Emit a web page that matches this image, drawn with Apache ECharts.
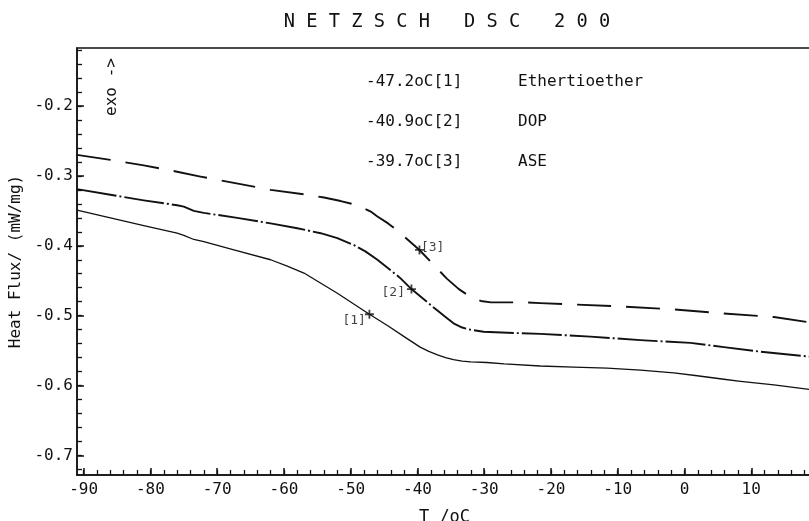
<!DOCTYPE html>
<html><head><meta charset="utf-8">
<script src="https://cdn.jsdelivr.net/npm/echarts@6/dist/echarts.min.js"></script>
<style>html,body{margin:0;padding:0;background:#fff}#c{width:809px;height:521px}</style>
</head><body><div id="c"></div>
<script>
// ---- data ----
const chartTitle = 'N E T Z S C H   D S C   2 0 0';
const seriesNames = ['Ethertioether', 'DOP', 'ASE'];
const onsetTemps = [-47.2, -40.9, -39.7];
const onsetFlux = [-0.498, -0.462, -0.406];

const ethT = [-91, -86, -81, -76, -75, -73.5, -72, -67.5, -62, -59.5, -57, -52, -47.2, -44.5, -42, -39.6, -38.3, -37, -35.8, -34.6, -33.3, -32, -29.6, -27, -21.6, -16.6, -11.6, -6.6, -1.6, 1.9, 5.9, 8.4, 13.4, 19.1];
const ethV = [-0.349, -0.360, -0.371, -0.382, -0.385, -0.391, -0.394, -0.406, -0.420, -0.429, -0.439, -0.468, -0.498, -0.514, -0.530, -0.545, -0.551, -0.556, -0.560, -0.563, -0.565, -0.566, -0.567, -0.569, -0.572, -0.5735, -0.575, -0.578, -0.582, -0.586, -0.591, -0.594, -0.599, -0.606];

const dopT = [-91, -86, -81, -76, -75, -73.5, -72, -67, -62, -58, -54.5, -52, -49.5, -47.8, -46, -42.6, -40.9, -37.1, -35.8, -34.6, -33.3, -32.1, -30.1, -25, -21.6, -14.1, -6.6, 0.9, 5.9, 10.9, 19.1];
const dopV = [-0.319, -0.327, -0.335, -0.342, -0.344, -0.350, -0.353, -0.360, -0.368, -0.375, -0.382, -0.389, -0.399, -0.408, -0.420, -0.446, -0.462, -0.492, -0.502, -0.511, -0.517, -0.520, -0.523, -0.525, -0.526, -0.530, -0.535, -0.539, -0.545, -0.551, -0.559];

const aseT = [-91, -86, -81, -76, -72.5, -67.5, -62, -56.5, -54, -51.5, -49, -47, -46, -44.4, -42.8, -39.7, -37.6, -35.6, -33.8, -32.1, -30.5, -29, -24.1, -21.6, -16.6, -9.1, -1.6, 5.9, 13.4, 19.1];
const aseV = [-0.270, -0.277, -0.285, -0.294, -0.301, -0.310, -0.320, -0.327, -0.331, -0.336, -0.342, -0.351, -0.358, -0.368, -0.380, -0.406, -0.427, -0.447, -0.462, -0.473, -0.479, -0.481, -0.481, -0.482, -0.484, -0.487, -0.491, -0.497, -0.502, -0.510];

const xLabelValues = [-90, -80, -70, -60, -50, -40, -30, -20, -10, 0, 10];
const xMinorTicks = [-90, -88, -86, -84, -82, -80, -78, -76, -74, -72, -70, -68, -66, -64, -62, -60, -58, -56, -54, -52, -50, -48, -46, -44, -42, -40, -38, -36, -34, -32, -30, -28, -26, -24, -22, -20, -18, -16, -14, -12, -10, -8, -6, -4, -2, 0, 2, 4, 6, 8, 10, 12, 14, 16, 18];
const yLabelValues = [-0.7, -0.6, -0.5, -0.4, -0.3, -0.2];
const yMinorTicks = [-0.72, -0.7, -0.68, -0.66, -0.64, -0.62, -0.6, -0.58, -0.56, -0.54, -0.52, -0.5, -0.48, -0.46, -0.44, -0.42, -0.4, -0.38, -0.36, -0.34, -0.32, -0.3, -0.28, -0.26, -0.24, -0.22, -0.2, -0.18, -0.16, -0.14, -0.12];

// ---- styling ----
const INK = '#111';
const MONO = '"DejaVu Sans Mono", monospace';
const zip = (a, b) => a.map((v, i) => [v, b[i]]);
const lineStyles = [
  { type: 'solid', width: 1.3 },
  { type: [40, 3, 2, 3], width: 1.9 },
  { type: [34, 15], width: 1.9 }
];
const labelPlacement = [
  { position: 'left', distance: 1, offset: [2, 6] },
  { position: 'left', distance: 1, offset: [-1, 4] },
  { position: 'right', distance: 1, offset: [-4, -2] }
];

const curves = [zip(ethT, ethV), zip(dopT, dopV), zip(aseT, aseV)];
const lineSeries = curves.map((d, i) => ({
  name: seriesNames[i], type: 'line', data: d, xAxisIndex: 0, yAxisIndex: 0,
  symbol: 'none', smooth: false, silent: true,
  lineStyle: Object.assign({ color: INK, cap: 'butt', join: 'round' }, lineStyles[i]), z: 3
}));

const markerSeries = {
  type: 'scatter', xAxisIndex: 0, yAxisIndex: 0, z: 5, silent: true,
  symbol: 'path://M4,0H6V4H10V6H6V10H4V6H0V4H4Z', symbolSize: 9,
  itemStyle: { color: INK },
  data: onsetTemps.map((t, i) => ({
    value: [t, onsetFlux[i]],
    label: Object.assign({
      show: true, formatter: '[' + (i + 1) + ']', color: INK,
      fontFamily: MONO, fontSize: 13
    }, labelPlacement[i])
  }))
};

const legendTexts = [];
seriesNames.forEach((n, i) => {
  const y = 82 + i * 40;
  legendTexts.push({ type: 'text', x: 366, y: y, z: 10, silent: true,
    style: { text: onsetTemps[i].toFixed(1) + 'oC[' + (i + 1) + ']', fill: INK,
      font: '16px ' + MONO, fontSize: 16, fontFamily: MONO,
      align: 'left', textAlign: 'left', verticalAlign: 'middle', textVerticalAlign: 'middle' } });
  legendTexts.push({ type: 'text', x: 518, y: y, z: 10, silent: true,
    style: { text: n, fill: INK, font: '16px ' + MONO, fontSize: 16, fontFamily: MONO,
      align: 'left', textAlign: 'left', verticalAlign: 'middle', textVerticalAlign: 'middle' } });
});

const tickFont = { color: INK, fontFamily: MONO, fontSize: 16 };

const option = {
  backgroundColor: '#fff',
  animation: false,
  grid: { left: 77, top: 48, right: -3, bottom: 46, show: true, borderColor: INK, borderWidth: 1.5,
    containLabel: false, outerBoundsMode: 'none' },
  xAxis: [
    { type: 'value', min: -91, max: 19.1, position: 'bottom',
      axisLine: { show: true, onZero: false, lineStyle: { color: INK, width: 1.5 } },
      axisTick: { show: true, inside: true, length: 5, customValues: xMinorTicks, lineStyle: { color: INK, width: 1.3 } },
      axisLabel: Object.assign({ customValues: xLabelValues, margin: 7 }, tickFont),
      splitLine: { show: false },
      name: 'T /oC', nameLocation: 'middle', nameGap: 34,
      nameTextStyle: { color: INK, fontFamily: MONO, fontSize: 17 } },
    { type: 'value', min: -91, max: 19.1, position: 'bottom',
      axisLine: { show: false, onZero: false },
      axisTick: { show: true, inside: true, length: 7, customValues: xLabelValues, lineStyle: { color: INK, width: 1.5 } },
      axisLabel: { show: false }, splitLine: { show: false } }
  ],
  yAxis: [
    { type: 'value', min: -0.728, max: -0.117, position: 'left',
      axisLine: { show: true, onZero: false, lineStyle: { color: INK, width: 1.5 } },
      axisTick: { show: true, inside: true, length: 5, customValues: yMinorTicks, lineStyle: { color: INK, width: 1.3 } },
      axisLabel: Object.assign({ customValues: yLabelValues, margin: 4 }, tickFont),
      splitLine: { show: false },
      name: 'Heat Flux/ (mW/mg)', nameLocation: 'middle', nameGap: 51,
      nameTextStyle: { color: INK, fontFamily: MONO, fontSize: 16 } },
    { type: 'value', min: -0.728, max: -0.117, position: 'left',
      axisLine: { show: false, onZero: false },
      axisTick: { show: true, inside: true, length: 7, customValues: yLabelValues, lineStyle: { color: INK, width: 1.5 } },
      axisLabel: { show: false }, splitLine: { show: false } }
  ],
  graphic: [
    { type: 'text', x: 447, y: 22, silent: true,
      style: { text: chartTitle, fill: INK, font: '18.7px ' + MONO, fontSize: 18.7, fontFamily: MONO,
        align: 'center', textAlign: 'center', verticalAlign: 'middle', textVerticalAlign: 'middle' } },
    { type: 'text', x: 112, y: 87, rotation: Math.PI / 2, silent: true,
      style: { text: 'exo ->', fill: INK, font: '16px ' + MONO, fontSize: 16, fontFamily: MONO,
        align: 'center', textAlign: 'center', verticalAlign: 'middle', textVerticalAlign: 'middle' } }
  ].concat(legendTexts),
  series: lineSeries.concat([markerSeries])
};

const chart = echarts.init(document.getElementById('c'), null, { renderer: 'canvas' });
chart.setOption(option);
</script>
</body></html>
